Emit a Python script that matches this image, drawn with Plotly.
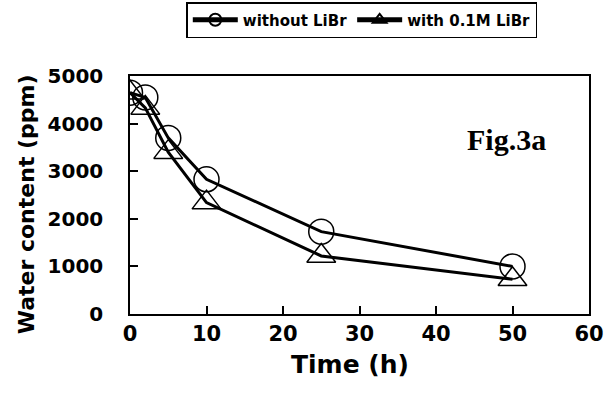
import plotly.graph_objects as go

time_h = [0, 2, 5, 10, 25, 50]
without_libr = [4650, 4550, 3700, 2830, 1730, 1000]
with_libr = [4650, 4330, 3400, 2340, 1220, 730]

x_ticks = [0, 10, 20, 30, 40, 50, 60]
y_ticks = [0, 1000, 2000, 3000, 4000, 5000]

font_main = "DejaVu Sans, Arial, sans-serif"

fig = go.Figure()
fig.add_trace(go.Scatter(
    x=time_h, y=without_libr, name="without LiBr", mode="lines+markers",
    line=dict(color="black", width=3),
    marker=dict(symbol="circle-open", size=25, color="black", line=dict(width=1.5)),
))
fig.add_trace(go.Scatter(
    x=time_h, y=with_libr, name="with 0.1M LiBr", mode="lines+markers",
    line=dict(color="black", width=3),
    marker=dict(symbol="triangle-up-open", size=25, color="black", line=dict(width=1.5)),
))

fig.add_annotation(
    x=0.82, y=0.735, xref="paper", yref="paper", xanchor="center", yanchor="middle",
    text="<b>Fig.3a</b>", showarrow=False,
    font=dict(family="Liberation Serif, Times New Roman, serif", size=30, color="black"),
)
fig.add_annotation(
    x=-0.226, y=0.462, xref="paper", yref="paper", xanchor="center", yanchor="middle",
    text="Water content (ppm)", showarrow=False, textangle=-90,
    font=dict(family=font_main, size=22, color="black", weight="bold"),
)
fig.add_annotation(
    x=0.48, y=-0.214, xref="paper", yref="paper", xanchor="center", yanchor="middle",
    text="Time (h)", showarrow=False,
    font=dict(family=font_main, size=25, color="black", weight="bold"),
)

fig.update_layout(
    width=616, height=405,
    margin=dict(l=130, r=15, t=76, b=91),
    paper_bgcolor="white", plot_bgcolor="white",
    font=dict(family=font_main, color="black", weight="bold"),
    showlegend=True,
    legend=dict(
        orientation="h", x=0.505, xanchor="center", y=0.995, yref="container", yanchor="top",
        bordercolor="black", borderwidth=1.5, bgcolor="white",
        font=dict(size=15, family=font_main, weight="bold"),
        itemwidth=45, tracegroupgap=0, itemsizing="constant",
    ),
    xaxis=dict(
        range=[0, 60], tickvals=x_ticks, ticktext=[str(v) for v in x_ticks],
        ticks="inside", ticklen=8, tickwidth=1.5, tickcolor="black",
        showline=True, linecolor="black", linewidth=1.5, mirror=True,
        showgrid=False, zeroline=False,
        tickfont=dict(size=21, family=font_main, weight="bold"),
    ),
    yaxis=dict(
        range=[0, 5000], tickvals=y_ticks, ticktext=[str(v) for v in y_ticks],
        ticks="inside", ticklen=8, tickwidth=1.5, tickcolor="black",
        showline=True, linecolor="black", linewidth=1.5, mirror=True,
        showgrid=False, zeroline=False, ticklabelstandoff=21,
        tickfont=dict(size=20, family=font_main, weight="bold"),
    ),
)

fig.write_html("out.html")
